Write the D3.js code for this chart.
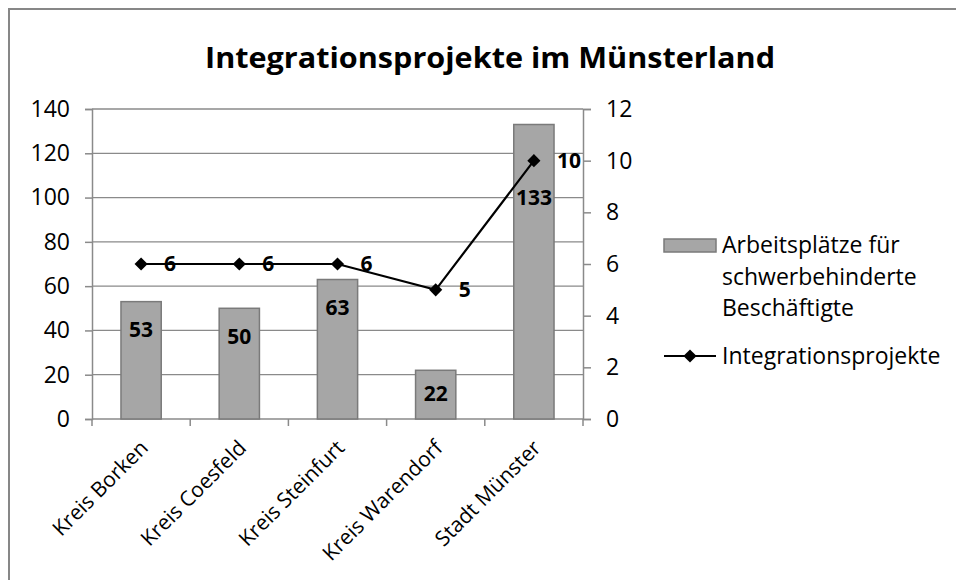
<!DOCTYPE html>
<html>
<head>
<meta charset="utf-8">
<script src="https://cdn.jsdelivr.net/npm/d3@7"></script>
<style>
	body { margin: 0; background: #fff; }
	svg { font-family: "Open Sans", sans-serif; }
</style>
</head>
<body>
<script>
'use strict';

const categories = ["Kreis Borken", "Kreis Coesfeld", "Kreis Steinfurt", "Kreis Warendorf", "Stadt Münster"];
const arbeitsplaetze = [53, 50, 63, 22, 133];
const projekte = [6, 6, 6, 5, 10];
const leftTicks = [0, 20, 40, 60, 80, 100, 120, 140];
const rightTicks = [0, 2, 4, 6, 8, 10, 12];
const title = "Integrationsprojekte im Münsterland";
const legendBar = ["Arbeitsplätze für", "schwerbehinderte", "Beschäftigte"];
const legendLine = "Integrationsprojekte";

const params = {
	width: 956,
	height: 580,
	font: '"Open Sans", sans-serif',
	plot: { left: 92, top: 109, right: 583, bottom: 419 }
};

const svg = d3.select("body").append("svg")
	.attr("width", params.width)
	.attr("height", params.height);

// outer frame
svg.append("rect")
	.attr("x", 9).attr("y", 9)
	.attr("width", 960).attr("height", 600)
	.attr("fill", "none")
	.attr("stroke", "#878787")
	.attr("stroke-width", 2);

svg.append("text")
	.attr("x", 490).attr("y", 68)
	.attr("text-anchor", "middle")
	.attr("font-size", 29)
	.attr("font-weight", "bold")
	.attr("textLength", 570)
	.attr("lengthAdjust", "spacingAndGlyphs")
	.text(title);

const p = params.plot;

const xScale = d3.scaleBand()
	.domain(categories)
	.range([p.left, p.right])
	.paddingInner(0.59)
	.paddingOuter(0.295);

const yLeft = d3.scaleLinear().domain([0, 140]).range([p.bottom, p.top]);
const yRight = d3.scaleLinear().domain([0, 12]).range([p.bottom, p.top]);

// gridlines
svg.append("g")
	.selectAll("line")
	.data(leftTicks.slice(1))
	.join("line")
		.attr("x1", p.left).attr("x2", p.right)
		.attr("y1", d => yLeft(d)).attr("y2", d => yLeft(d))
		.attr("stroke", "#8a8a8a")
		.attr("stroke-width", 1.3);

// left axis
const leftAxis = svg.append("g")
	.attr("transform", `translate(${p.left},0)`)
	.call(d3.axisLeft(yLeft).tickValues(leftTicks).tickSize(7).tickPadding(15));

// right axis
const rightAxis = svg.append("g")
	.attr("transform", `translate(${p.right},0)`)
	.call(d3.axisRight(yRight).tickValues(rightTicks).tickSize(8).tickPadding(15));

for (let ax of [leftAxis, rightAxis]) {
	ax.attr("font-family", params.font).attr("font-size", 23);
	ax.select(".domain").attr("stroke", "#8a8a8a").attr("stroke-width", 1.5);
	ax.selectAll(".tick line").attr("stroke", "#8a8a8a").attr("stroke-width", 1.5);
	ax.selectAll("text").attr("fill", "#000");
}

// category axis ticks at band boundaries
const bandStep = xScale.step();
const boundaries = d3.range(categories.length + 1).map(i => p.left + i * bandStep);
svg.append("g")
	.selectAll("line")
	.data(boundaries)
	.join("line")
		.attr("x1", d => d).attr("x2", d => d)
		.attr("y1", p.bottom).attr("y2", p.bottom + 7)
		.attr("stroke", "#8a8a8a")
		.attr("stroke-width", 1.5);
svg.append("line")
	.attr("x1", p.left).attr("x2", p.right)
	.attr("y1", p.bottom).attr("y2", p.bottom)
	.attr("stroke", "#8a8a8a")
	.attr("stroke-width", 1.5);

svg.append("g")
	.selectAll("text")
	.data(categories)
	.join("text")
		.attr("transform", d => `translate(${xScale(d) + xScale.bandwidth() / 2 + 3},${p.bottom + 25}) rotate(-45)`)
		.attr("text-anchor", "end")
		.attr("dy", "0.35em")
		.attr("font-size", 21)
		.text(d => d);

// bars
const data = categories.map((c, i) => ({ cat: c, val: arbeitsplaetze[i], proj: projekte[i] }));

svg.append("g")
	.selectAll("rect")
	.data(data)
	.join("rect")
		.attr("x", d => xScale(d.cat))
		.attr("y", d => yLeft(d.val))
		.attr("width", xScale.bandwidth())
		.attr("height", d => p.bottom - yLeft(d.val))
		.attr("fill", "#a6a6a6")
		.attr("stroke", "#7a7a7a")
		.attr("stroke-width", 1.5);

// bar labels, inside end; pushed down where they would hit the marker
const barLabelY = d => {
	let y = Math.min(yLeft(d.val) + 28, p.bottom - 25);
	const my = yRight(d.proj);
	if (Math.abs(y - my) < 25) y = my + 37;
	return y;
};
svg.append("g")
	.selectAll("text")
	.data(data)
	.join("text")
		.attr("x", d => xScale(d.cat) + xScale.bandwidth() / 2)
		.attr("y", d => barLabelY(d))
		.attr("dy", "0.35em")
		.attr("text-anchor", "middle")
		.attr("font-size", 21)
		.attr("font-weight", "bold")
		.text(d => d.val);

// line series
const cx = d => xScale(d.cat) + xScale.bandwidth() / 2;
const line = d3.line()
	.x(d => cx(d))
	.y(d => yRight(d.proj));

svg.append("path")
	.datum(data)
	.attr("d", line)
	.attr("fill", "none")
	.attr("stroke", "#000")
	.attr("stroke-width", 2.2);

const diamond = d3.symbol().type(d3.symbolDiamond2).size(110);
svg.append("g")
	.selectAll("path")
	.data(data)
	.join("path")
		.attr("transform", d => `translate(${cx(d)},${yRight(d.proj)})`)
		.attr("d", diamond)
		.attr("fill", "#000");

svg.append("g")
	.selectAll("text")
	.data(data)
	.join("text")
		.attr("x", d => cx(d) + 23)
		.attr("y", d => yRight(d.proj))
		.attr("dy", "0.35em")
		.attr("font-size", 21)
		.attr("font-weight", "bold")
		.text(d => d.proj);

// legend
const legend = svg.append("g");
legend.append("rect")
	.attr("x", 664).attr("y", 239)
	.attr("width", 52).attr("height", 13)
	.attr("fill", "#a6a6a6")
	.attr("stroke", "#7a7a7a")
	.attr("stroke-width", 1.5);
legend.append("text")
	.attr("x", 722).attr("y", 245)
	.attr("font-size", 23)
	.selectAll("tspan")
	.data(legendBar)
	.join("tspan")
		.attr("x", 722)
		.attr("y", (d, i) => 245 + i * 31.5)
		.attr("dy", "0.35em")
		.text(d => d);

legend.append("line")
	.attr("x1", 664).attr("x2", 716)
	.attr("y1", 356).attr("y2", 356)
	.attr("stroke", "#000")
	.attr("stroke-width", 2.2);
legend.append("path")
	.attr("transform", "translate(690,356)")
	.attr("d", diamond)
	.attr("fill", "#000");
legend.append("text")
	.attr("x", 722).attr("y", 356)
	.attr("dy", "0.35em")
	.attr("font-size", 23)
	.text(legendLine);
</script>
</body>
</html>
